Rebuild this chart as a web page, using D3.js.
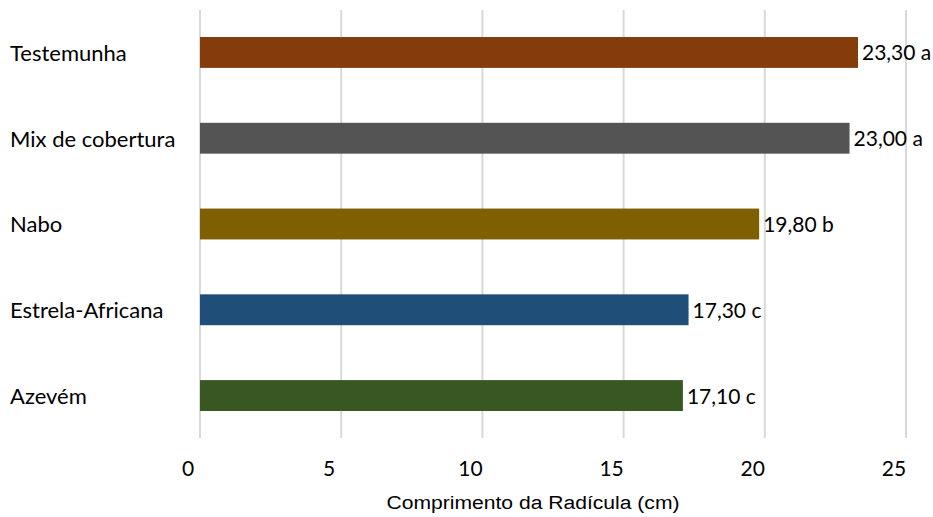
<!DOCTYPE html>
<html>
<head>
<meta charset="utf-8">
<script src="https://cdn.jsdelivr.net/npm/d3@7"></script>
<style>
	body { margin: 0; background: #fff; }
	svg { display: block; }
</style>
</head>
<body>
<svg id="chart" width="933" height="517"></svg>
<script>
// Data
const categories = ["Testemunha", "Mix de cobertura", "Nabo", "Estrela-Africana", "Azevém"];
const values = [23.3, 23.0, 19.8, 17.3, 17.1];
const letters = ["a", "a", "b", "c", "c"];
const colors = ["#843C0C", "#545454", "#7F6000", "#1F4E79", "#385723"];
const ticks = [0, 5, 10, 15, 20, 25];

const svg = d3.select("#chart");

// Scales
const x = d3.scaleLinear()
	.domain([0, 25])
	.range([200, 906]);

const y = d3.scaleBand()
	.domain(categories)
	.range([10, 438])
	.paddingInner(0.64)
	.paddingOuter(0.315);

// Gridlines
svg.append("g")
	.selectAll("line")
	.data(ticks)
	.join("line")
	.attr("x1", d => x(d))
	.attr("x2", d => x(d))
	.attr("y1", 10)
	.attr("y2", 438)
	.style("stroke", "#d9d9d9")
	.style("stroke-width", 2);

// Bars
svg.append("g")
	.selectAll("rect")
	.data(categories)
	.join("rect")
	.attr("x", x(0))
	.attr("y", d => y(d))
	.attr("width", (d, i) => x(values[i]) - x(0))
	.attr("height", y.bandwidth())
	.style("fill", (d, i) => colors[i]);

// Category labels
svg.append("g")
	.selectAll("text")
	.data(categories)
	.join("text")
	.attr("x", 10)
	.attr("y", d => y(d) + y.bandwidth() / 2)
	.attr("dy", "0.38em")
	.style("font-family", "Lato, sans-serif")
	.style("font-size", "22px")
	.style("fill", "#000")
	.text(d => d);

// Value labels
const fmt = d3.format(".2f");
svg.append("g")
	.selectAll("text")
	.data(categories)
	.join("text")
	.attr("x", (d, i) => x(values[i]) + 4)
	.attr("y", d => y(d) + y.bandwidth() / 2)
	.attr("dy", "0.38em")
	.style("font-family", "Lato, sans-serif")
	.style("font-size", "21px")
	.style("fill", "#000")
	.text((d, i) => fmt(values[i]).replace(".", ",") + " " + letters[i]);

// Tick labels
svg.append("g")
	.selectAll("text")
	.data(ticks)
	.join("text")
	.attr("x", d => x(d) - 12)
	.attr("y", 476)
	.attr("text-anchor", "middle")
	.style("font-family", "Lato, sans-serif")
	.style("font-size", "21px")
	.style("fill", "#000")
	.text(d => d);

// Axis title
svg.append("text")
	.attr("x", 533)
	.attr("y", 509)
	.attr("text-anchor", "middle")
	.attr("textLength", 293)
	.attr("lengthAdjust", "spacingAndGlyphs")
	.style("font-family", "'Liberation Sans', Arial, sans-serif")
	.style("font-size", "18px")
	.style("fill", "#000")
	.text("Comprimento da Radícula (cm)");
</script>
</body>
</html>
